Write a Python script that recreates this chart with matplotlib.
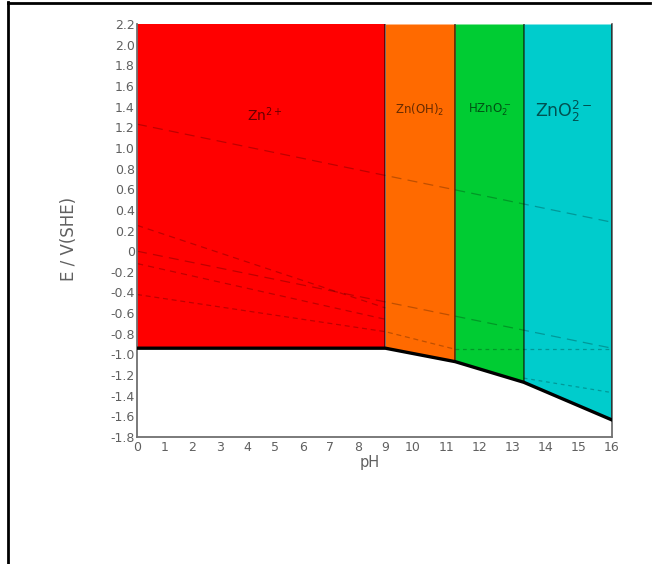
import matplotlib
matplotlib.use('Agg')
import matplotlib.pyplot as plt
from matplotlib.lines import Line2D
import numpy as np

# region edges along pH and the Zn stability line under them
ph_edges = [0.0, 9.0, 11.27, 13.34, 16.0]
zn_line_E = [-0.94, -0.94, -1.07, -1.27, -1.635]
region_colors = ['#ff0000', '#ff6a00', '#00cc33', '#00cccc']
region_names = ['Zn$^{2+}$', 'Zn(OH)$_2$', 'HZnO$_2^-$', 'ZnO$_2^{2-}$']
name_ph = [4.64, 10.2, 12.3, 14.55]
name_E = [1.32, 1.37, 1.37, 1.35]
name_size = [10, 8.5, 8.5, 12.5]

# dashed guide lines (pH, E)
o2_ph, o2_E = [0, 16], [1.23, 0.28]
h2_ph, h2_E = [0, 16], [0.0, -0.94]
l1_ph, l1_E = [0, 9], [0.25, -0.55]
l2_ph, l2_E = [0, 9], [-0.12, -0.66]
l3_ph, l3_E = [0, 9, 11.27], [-0.42, -0.78, -0.95]
l4_ph, l4_E = [11.27, 16], [-0.95, -0.95]
l5_ph, l5_E = [13.34, 16], [-1.23, -1.37]

xticks = list(range(17))
yticks = [2.2, 2.0, 1.8, 1.6, 1.4, 1.2, 1.0, 0.8, 0.6, 0.4, 0.2, 0.0,
          -0.2, -0.4, -0.6, -0.8, -1.0, -1.2, -1.4, -1.6, -1.8]
ylabels = ['2.2', '2.0', '1.8', '1.6', '1.4', '1.2', '1.0', '0.8', '0.6', '0.4',
           '0.2', '0', '-0.2', '-0.4', '-0.6', '-0.8', '-1.0', '-1.2', '-1.4',
           '-1.6', '-1.8']

# the pH axis in the picture is not even: 0-10 narrower than 10-16
_knots = [0, 10, 16]
_pix = [0, 276, 475]
def fwd(x):
    return np.interp(x, _knots, _pix)
def inv(x):
    return np.interp(x, _pix, _knots)

fig = plt.figure(figsize=(6.54, 5.64), dpi=100)
ax = fig.add_axes([137/654, 1-437/564, 475/654, 413/564])
ax.set_xscale('function', functions=(fwd, inv))
ax.set_xlim(0, 16)
ax.set_ylim(-1.8, 2.2)

for i in range(4):
    xs = [ph_edges[i], ph_edges[i+1]]
    ax.fill_between(xs, [zn_line_E[i], zn_line_E[i+1]], [2.2, 2.2],
                    color=region_colors[i], lw=0, zorder=1)
    ax.text(name_ph[i], name_E[i], region_names[i], fontsize=name_size[i],
            color='k', alpha=0.6, ha='center', va='center', zorder=4)

for i in range(1, 5):
    ax.plot([ph_edges[i], ph_edges[i]], [zn_line_E[i], 2.2], color='k',
            alpha=0.6, lw=1.3, zorder=3)

for px, ey, ls in [(o2_ph, o2_E, (0, (8, 5))), (h2_ph, h2_E, (0, (8, 5))),
                   (l1_ph, l1_E, (0, (5, 4))), (l2_ph, l2_E, (0, (5, 4))),
                   (l3_ph, l3_E, (0, (4, 3))), (l4_ph, l4_E, (0, (3, 3))),
                   (l5_ph, l5_E, (0, (3, 3)))]:
    ax.plot(px, ey, color='k', alpha=0.25, lw=0.9, ls=ls, zorder=2)

ax.plot(ph_edges, zn_line_E, color='k', lw=2.4, zorder=5)

ax.set_xticks(xticks)
ax.set_xticklabels([str(t) for t in xticks])
ax.set_yticks(yticks)
ax.set_yticklabels(ylabels)
ax.tick_params(length=0, labelsize=9, colors='#606060')
ax.tick_params(axis='x', pad=3)
ax.tick_params(axis='y', pad=1.5)

ax.spines['top'].set_visible(False)
for s in ['left', 'bottom', 'right']:
    ax.spines[s].set_color('#707070')
    ax.spines[s].set_linewidth(1.3)

ax.set_xlabel('pH', fontsize=10.5, color='#606060')
ax.set_ylabel('E / V(SHE)', fontsize=12, color='#606060')
ax.xaxis.set_label_coords(0.49, -0.043)
ax.yaxis.set_label_coords(-0.124, 0.48)

# black frame around the picture
fig.add_artist(Line2D([8/654, 8/654], [0, 1-2/564], transform=fig.transFigure,
                      color='k', lw=2))
fig.add_artist(Line2D([8/654, 650/654], [1-2.5/564, 1-2.5/564],
                      transform=fig.transFigure, color='k', lw=2))

fig.savefig('out.png', dpi=100)
